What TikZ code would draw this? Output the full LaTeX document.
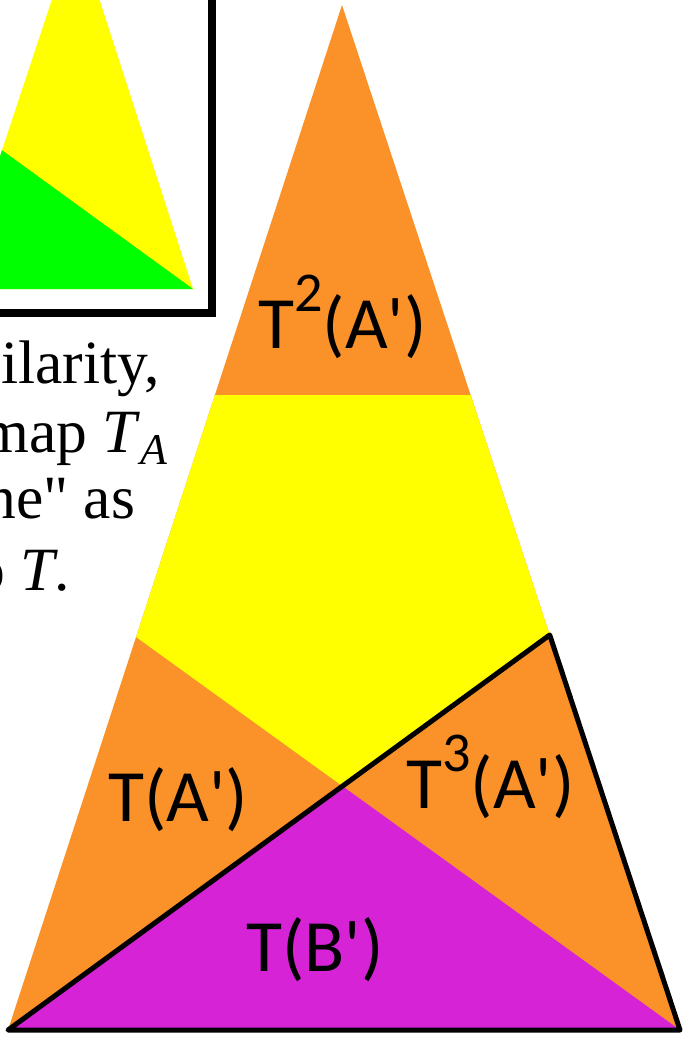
\documentclass[tikz,border=0pt]{standalone}
\usepackage{fontspec}
\setmainfont{Liberation Serif}
\newfontfamily\labelfont{Carlito}
\usepackage{xcolor}
\usepackage{tikz}
\usetikzlibrary{calc}
\definecolor{color_fb9129}{rgb}{0.984,0.569,0.161}
\definecolor{color_ffff00}{rgb}{1,1,0}
\definecolor{color_00ff00}{rgb}{0,1,0}
\definecolor{color_d523d5}{rgb}{0.835,0.137,0.835}
\tikzset{
  regionlabel/.style={anchor=base west, inner sep=0pt, font=\labelfont\fontsize{42}{42}\selectfont},
  textline/.style={anchor=base west, inner sep=0pt, font=\fontsize{35}{40}\selectfont},
}
\newcommand{\supnum}[1]{\raisebox{21pt}{\fontsize{32}{32}\selectfont #1}}

\begin{document}
\begin{tikzpicture}[x=0.02cm, y=-0.02cm]
			\useasboundingbox (0,0) rectangle (685,1037);
			\clip (0,0) rectangle (685,1037);
			
			% Encadre du petit triangle
			\filldraw[fill=white, draw=black, line width=4pt] (-200,-200) rectangle (212,313);
			\coordinate (iP) at (76,-73);
			\coordinate (iL) at (-44,289);
			\coordinate (iR) at (193,289);
			\coordinate (iD) at ($(iP)!0.6166!(iL)$);
			\fill[color_ffff00] (iP) -- (iL) -- (iR) -- cycle;
			\fill[color_00ff00] (iD) -- (iL) -- (iR) -- cycle;
			
			% Texte coupe a gauche
			\node[textline] (line1) at (1,383) {ilarity,};
			\node[textline] (line2) at (-19,452) {map \textit{T}\raisebox{-7pt}{\fontsize{25}{25}\selectfont\itshape A}};
			\node[textline] (line3) at (-15,518) {ne\textquotedbl{} as};
			\node[textline] (line4) at (-26,590) {o \textit{T}.};
			
			% Grand triangle
			\coordinate (P) at (342,5);
			\coordinate (L) at (8,1030);
			\coordinate (R) at (680,1030);
			\coordinate (TL) at ($(P)!0.3805!(L)$);
			\coordinate (TR) at ($(P)!0.3805!(R)$);
			\coordinate (D) at ($(P)!0.6166!(L)$);
			\coordinate (E) at ($(P)!0.6146!(R)$);
			\coordinate (X) at (intersection of D--R and L--E);
			\fill[color_fb9129] (P) -- (L) -- (R) -- cycle;
			\fill[color_ffff00] (TL) -- (TR) -- (E) -- (X) -- (D) -- cycle;
			\fill[color_d523d5] (L) -- (X) -- (R) -- cycle;
			\draw[black, line width=2.85pt, line join=round] (L) -- (E) -- (R) -- cycle;
			
			% Etiquettes
			\node[regionlabel] (t2a) at (258,348) {T\supnum{2}(A\textquotesingle)};
			\node[regionlabel] (ta) at (108,821) {T(A\textquotesingle)};
			\node[regionlabel] (t3a) at (406,808) {T\supnum{3}(A\textquotesingle)};
			\node[regionlabel] (tb) at (246,971) {T(B\textquotesingle)};
		\end{tikzpicture}
\end{document}
